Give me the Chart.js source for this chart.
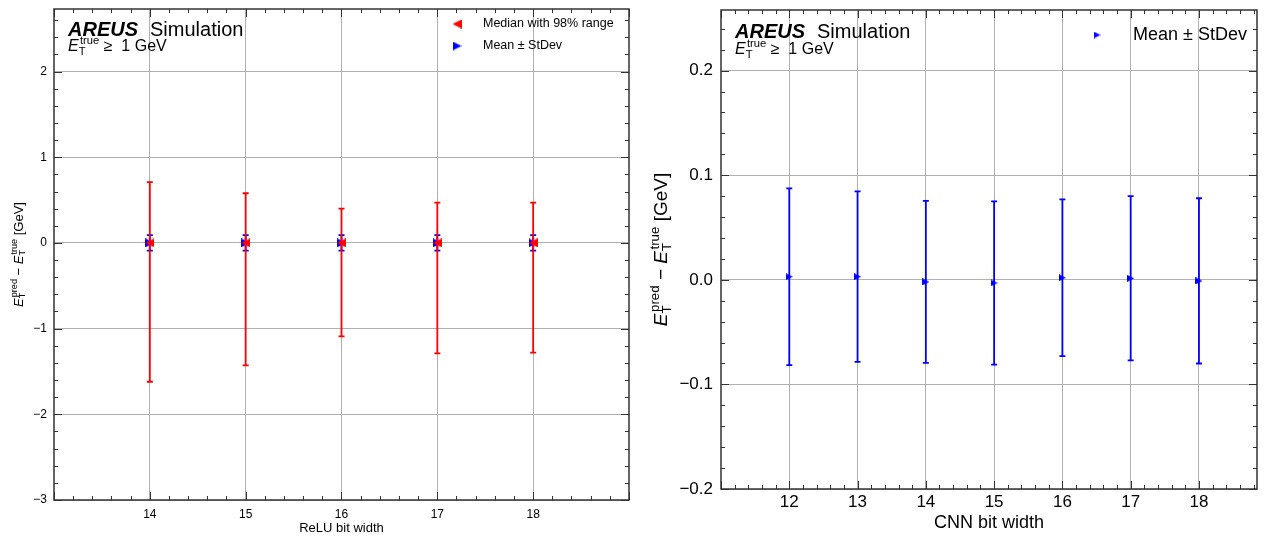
<!DOCTYPE html>
<html>
<head>
<meta charset="utf-8">
<script src="https://cdn.jsdelivr.net/npm/chart.js@4.4.0/dist/chart.umd.min.js"></script>
<style>
  body { margin: 0; background: #fff; }
  .panel { position: absolute; top: 0; height: 540px; }
</style>
</head>
<body>
<div class="panel" style="left:0;width:640px"><canvas id="reluChart" width="640" height="540"></canvas></div>
<div class="panel" style="left:640px;width:629px"><canvas id="cnnChart" width="629" height="540"></canvas></div>
<script>
// ========== DATA ==========
const reluBits = [14, 15, 16, 17, 18];
const reluMedian = [0, 0, 0, 0, 0];
const reluLow98 = [-1.62, -1.43, -1.09, -1.29, -1.28];
const reluHigh98 = [0.71, 0.58, 0.40, 0.47, 0.47];
const reluMean = [0, 0, 0, 0, 0];
const reluStd = [0.09, 0.09, 0.09, 0.09, 0.09];
const reluXTicks = [14, 15, 16, 17, 18];
const reluYTicks = [-3, -2, -1, 0, 1, 2];

const cnnBits = [12, 13, 14, 15, 16, 17, 18];
const cnnMean = [0.003, 0.003, -0.002, -0.003, 0.002, 0.0015, -0.001];
const cnnStd = [0.0845, 0.0815, 0.0775, 0.078, 0.075, 0.0785, 0.079];
const cnnXTicks = [12, 13, 14, 15, 16, 17, 18];
const cnnYTicks = [-0.2, -0.1, 0, 0.1, 0.2];

const FONT = '"Liberation Sans", Arial, sans-serif';
const RED = "#ff0000";
const BLUE = "#0000ff";
const FRAME = "#333333";

Chart.defaults.font.family = FONT;
Chart.defaults.color = "#000";

// ========== HELPERS ==========
function minusFmt(txt, v) {
  return v < -1e-9 ? "\u2212" + txt : txt;
}

// matplotlib-like triangle marker, tip left ("<") or right (">")
function makeTri(dir, size, color) {
  const c = document.createElement("canvas");
  c.width = size;
  c.height = size;
  const g = c.getContext("2d");
  g.fillStyle = color;
  g.beginPath();
  if (dir === "<") {
    g.moveTo(0, size / 2); g.lineTo(size, 0); g.lineTo(size, size);
  } else {
    g.moveTo(size, size / 2); g.lineTo(0, 0); g.lineTo(0, size);
  }
  g.closePath();
  g.fill();
  return c;
}

const redLeft = makeTri("<", 9, RED);
const blueRight = makeTri(">", 9, BLUE);
const blueRightSmall = makeTri(">", 7, BLUE);

// parts: {t, it} plain text, or {sub, sup} stacked scripts
function drawMath(ctx, parts, x, y, size, draw) {
  let cx = x;
  const small = size * 0.7;
  parts.forEach((p) => {
    if (p.t !== undefined) {
      ctx.font = (p.it ? "italic " : "") + size + "px " + FONT;
      if (draw) ctx.fillText(p.t, cx, y);
      cx += ctx.measureText(p.t).width;
    } else {
      ctx.font = small + "px " + FONT;
      const w1 = ctx.measureText(p.sub).width;
      const w2 = ctx.measureText(p.sup).width + size * 0.08;
      if (draw) {
        ctx.fillText(p.sub, cx, y + size * 0.22);
        ctx.fillText(p.sup, cx + size * 0.08, y - size * 0.42);
      }
      cx += Math.max(w1, w2);
    }
  });
  return cx - x;
}

const yTitleParts = [
  { t: "E", it: true }, { sub: "T", sup: "pred" },
  { t: " \u2212 " },
  { t: "E", it: true }, { sub: "T", sup: "true" },
  { t: " [GeV]" },
];
const cutParts = [{ t: "E", it: true }, { sub: "T", sup: "true" }, { t: " \u2265  1 GeV" }];

// ========== PLUGINS ==========
const errorBars = {
  id: "errorBars",
  beforeDatasetDraw(chart, args) {
    const ds = chart.data.datasets[args.index];
    if (!ds.errLow) return;
    const ctx = chart.ctx;
    const xs = chart.scales.x, ys = chart.scales.y;
    ctx.save();
    ctx.strokeStyle = ds.barColor;
    ctx.lineWidth = 1.8;
    ds.data.forEach((d, i) => {
      const px = xs.getPixelForValue(d.x);
      const y1 = ys.getPixelForValue(ds.errLow[i]);
      const y2 = ys.getPixelForValue(ds.errHigh[i]);
      ctx.beginPath();
      ctx.moveTo(px, y1); ctx.lineTo(px, y2);
      ctx.moveTo(px - 3, y1); ctx.lineTo(px + 3, y1);
      ctx.moveTo(px - 3, y2); ctx.lineTo(px + 3, y2);
      ctx.stroke();
    });
    ctx.restore();
  },
};

function frameTicks(xMajor, xMinor, yMajor, yMinor) {
  return {
    id: "frameTicks",
    afterDraw(chart) {
      const ctx = chart.ctx;
      const a = chart.chartArea;
      const xs = chart.scales.x, ys = chart.scales.y;
      ctx.save();
      ctx.strokeStyle = FRAME;
      ctx.lineWidth = 1;
      const isMajor = (v, m) => Math.abs(v / m - Math.round(v / m)) < 1e-6;
      for (let v = Math.ceil(xs.min / xMinor - 1e-6) * xMinor; v <= xs.max + 1e-9; v += xMinor) {
        const px = Math.round(xs.getPixelForValue(v)) + 0.5;
        const len = isMajor(v, xMajor) ? 8 : 4;
        ctx.beginPath();
        ctx.moveTo(px, a.bottom); ctx.lineTo(px, a.bottom - len);
        ctx.moveTo(px, a.top); ctx.lineTo(px, a.top + len);
        ctx.stroke();
      }
      for (let v = Math.ceil(ys.min / yMinor - 1e-6) * yMinor; v <= ys.max + 1e-9; v += yMinor) {
        const py = Math.round(ys.getPixelForValue(v)) + 0.5;
        const len = isMajor(v, yMajor) ? 8 : 4;
        ctx.beginPath();
        ctx.moveTo(a.left, py); ctx.lineTo(a.left + len, py);
        ctx.moveTo(a.right, py); ctx.lineTo(a.right - len, py);
        ctx.stroke();
      }
      ctx.lineWidth = 1.5;
      ctx.strokeRect(a.left, a.top, a.right - a.left, a.bottom - a.top);
      ctx.restore();
    },
  };
}

function annotate(cfg) {
  return {
    id: "annotate",
    afterDraw(chart) {
      const ctx = chart.ctx;
      const a = chart.chartArea;
      ctx.save();
      ctx.fillStyle = "#000";
      ctx.textBaseline = "alphabetic";
      ctx.textAlign = "left";
      // experiment label
      ctx.font = "bold italic 20px " + FONT;
      ctx.fillText("AREUS", cfg.labX, cfg.labY);
      const w = ctx.measureText("AREUS").width;
      ctx.font = "20px " + FONT;
      ctx.fillText("Simulation", cfg.labX + w + 12, cfg.labY);
      drawMath(ctx, cutParts, cfg.labX, cfg.cutY, 16, true);
      // legend
      cfg.legend.forEach((it) => {
        ctx.drawImage(it.img, cfg.legMarkX - it.img.width / 2, it.y - it.img.height / 2);
        ctx.fillStyle = "#000";
        ctx.font = cfg.legSize + "px " + FONT;
        ctx.textBaseline = "middle";
        ctx.fillText(it.label, cfg.legTextX, it.y);
        ctx.textBaseline = "alphabetic";
      });
      // x title
      ctx.font = cfg.titleSize + "px " + FONT;
      ctx.textAlign = "center";
      ctx.textBaseline = "middle";
      ctx.fillText(cfg.xTitle, (a.left + a.right) / 2, cfg.xTitleY);
      // y title
      ctx.textAlign = "left";
      ctx.textBaseline = "alphabetic";
      const ts = cfg.yTitleSize;
      const tw = drawMath(ctx, yTitleParts, 0, 0, ts, false);
      ctx.translate(cfg.yTitleX, (a.top + a.bottom) / 2);
      ctx.rotate(-Math.PI / 2);
      drawMath(ctx, yTitleParts, -tw / 2, ts * 0.35, ts, true);
      ctx.restore();
    },
  };
}

function noPad(s) {
  s.paddingTop = 0; s.paddingBottom = 0; s.paddingLeft = 0; s.paddingRight = 0;
}

function baseScales(o) {
  return {
    x: {
      type: "linear", min: o.xMin, max: o.xMax,
      afterBuildTicks: (s) => { s.ticks = o.xTicks.map((v) => ({ value: v })); },
      afterFit: (s) => { s.height = o.xHeight; noPad(s); },
      grid: { color: "#b0b0b0", lineWidth: 1, drawTicks: false },
      border: { display: false },
      ticks: { padding: o.xPad, maxRotation: 0, autoSkip: false, font: { size: o.tickSize },
        callback: (v) => String(v) },
    },
    y: {
      type: "linear", min: o.yMin, max: o.yMax,
      afterBuildTicks: (s) => { s.ticks = o.yTicks.map((v) => ({ value: v })); },
      afterFit: (s) => { s.width = o.yWidth; noPad(s); },
      grid: { color: "#b0b0b0", lineWidth: 1, drawTicks: false },
      border: { display: false },
      ticks: { padding: o.yPad, autoSkip: false, font: { size: o.tickSize },
        callback: (v) => minusFmt(Math.abs(v).toFixed(o.yDec), v) },
    },
  };
}

// ========== LEFT PANEL: ReLU ==========
new Chart(document.getElementById("reluChart"), {
  type: "scatter",
  data: {
    datasets: [
      {
        label: "Median with 98% range",
        data: reluBits.map((b, i) => ({ x: b, y: reluMedian[i] })),
        errLow: reluLow98, errHigh: reluHigh98, barColor: RED,
        pointStyle: redLeft, pointRadius: 5,
      },
      {
        label: "Mean \u00b1 StDev",
        data: reluBits.map((b, i) => ({ x: b, y: reluMean[i] })),
        errLow: reluMean.map((m, i) => m - reluStd[i]),
        errHigh: reluMean.map((m, i) => m + reluStd[i]), barColor: BLUE,
        pointStyle: blueRight, pointRadius: 5,
      },
    ],
  },
  options: {
    responsive: false, animation: false, devicePixelRatio: 1,
    layout: { padding: { left: 0, right: 11, top: 9, bottom: 0 } },
    plugins: { legend: { display: false }, tooltip: { enabled: false } },
    scales: baseScales({
      xMin: 13, xMax: 19, xTicks: reluXTicks, xHeight: 40, xPad: 7,
      yMin: -3, yMax: 2.73, yTicks: reluYTicks, yWidth: 54, yPad: 7, yDec: 0, tickSize: 12,
    }),
  },
  plugins: [
    errorBars,
    frameTicks(1, 0.2, 1, 0.2),
    annotate({
      labX: 68, labY: 36, cutY: 51,
      legMarkX: 457, legTextX: 483, legSize: 12.5,
      legend: [
        { y: 24, img: redLeft, label: "Median with 98% range" },
        { y: 46, img: blueRight, label: "Mean \u00b1 StDev" },
      ],
      titleSize: 13, xTitle: "ReLU bit width", xTitleY: 528,
      yTitleSize: 13, yTitleX: 18,
    }),
  ],
});

// ========== RIGHT PANEL: CNN ==========
new Chart(document.getElementById("cnnChart"), {
  type: "scatter",
  data: {
    datasets: [
      {
        label: "Mean \u00b1 StDev",
        data: cnnBits.map((b, i) => ({ x: b, y: cnnMean[i] })),
        errLow: cnnMean.map((m, i) => m - cnnStd[i]),
        errHigh: cnnMean.map((m, i) => m + cnnStd[i]), barColor: BLUE,
        pointStyle: blueRightSmall, pointRadius: 4,
      },
    ],
  },
  options: {
    responsive: false, animation: false, devicePixelRatio: 1,
    layout: { padding: { left: 0, right: 12, top: 10, bottom: 0 } },
    plugins: { legend: { display: false }, tooltip: { enabled: false } },
    scales: baseScales({
      xMin: 11, xMax: 18.85, xTicks: cnnXTicks, xHeight: 51, xPad: 3,
      yMin: -0.2, yMax: 0.258, yTicks: cnnYTicks, yWidth: 81, yPad: 8, yDec: 1, tickSize: 17,
    }),
  },
  plugins: [
    errorBars,
    frameTicks(1, 0.2, 0.1, 0.02),
    annotate({
      labX: 95, labY: 38, cutY: 54,
      legMarkX: 457, legTextX: 493, legSize: 18,
      legend: [{ y: 35, img: blueRightSmall, label: "Mean \u00b1 StDev" }],
      titleSize: 18, xTitle: "CNN bit width", xTitleY: 523,
      yTitleSize: 19, yTitleX: 20,
    }),
  ],
});
</script>
</body>
</html>
